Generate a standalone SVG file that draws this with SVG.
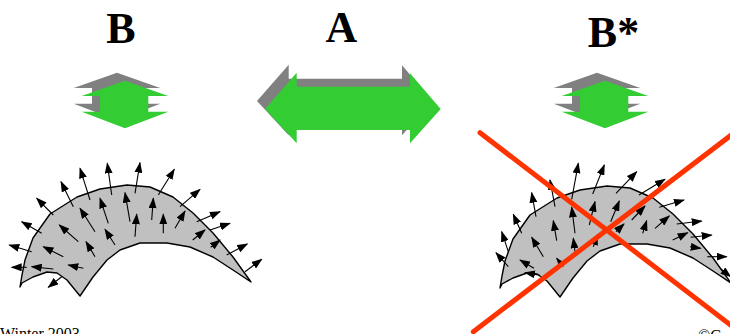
<svg xmlns="http://www.w3.org/2000/svg" xmlns:xlink="http://www.w3.org/1999/xlink" width="730" height="334" viewBox="0 0 730 334">
  <style>
    .title { font-family: "Liberation Serif", "Times New Roman", serif; font-weight: bold; font-size: 44px; fill: #000; }
    .foot { font-family: "Liberation Serif", "Times New Roman", serif; font-size: 16px; fill: #000; }
    .shadow { fill: #808080; }
    .face { fill: #33CC33; }
    .surface { fill: #C0C0C0; stroke: #000; stroke-width: 1.4; stroke-linejoin: round; }
    .normal { stroke: #000; stroke-width: 1.1; fill: none; marker-end: url(#head); }
    .cross { stroke: #FF3300; stroke-width: 5; stroke-linecap: round; fill: none; }
  </style>
  <defs>
    <marker id="head" markerUnits="userSpaceOnUse" markerWidth="11" markerHeight="8" refX="10" refY="4" orient="auto">
      <path d="M0,0 L11,4 L0,8 z" fill="#000"/>
    </marker>
    <!-- small vertical double arrow, centred on x=125 -->
    <polygon id="vArrow" points="125,80.7 168.3,96 148.3,96 148.3,111.7 168.3,111.7 125,128.3 81.7,111.7 100,111.7 100,96 81.7,96"/>
    <!-- large horizontal double arrow -->
    <polygon id="hArrow" points="265,109 296.7,72.7 296.7,86.7 410,86.7 410,73.3 440.7,109 410,143.3 410,130 296.7,130 296.7,143.3"/>
    <!-- curved surface patch -->
    <path id="patch" d="M20,287 L22,275 L25,260 L33,238 L50,214 L77,197 L100,189 L127,185 L150,187 L173,197 L193,213 L213,233 L233,257 L251,282 L233,270 L213,257 L190,247 L167,243 L140,243 L120,250 L107,260 L93,277 L80,296 L67,280 L57,273 L47,272 L33,277 L22,283 Z"/>
  </defs>

  <!-- titles -->
  <g id="label-B"><text class="title" x="121" y="43" text-anchor="middle">B</text></g>
  <g id="label-A"><text class="title" x="341.5" y="42" text-anchor="middle">A</text></g>
  <g id="label-Bstar"><text class="title" x="613.5" y="47" text-anchor="middle">B*</text></g>

  <!-- double arrows -->
  <g id="arrow-B">
    <use xlink:href="#vArrow" class="shadow" transform="translate(-8,-8)"/>
    <use xlink:href="#vArrow" class="face"/>
  </g>
  <g id="arrow-A">
    <use xlink:href="#hArrow" class="shadow" transform="translate(-8,-8)"/>
    <use xlink:href="#hArrow" class="face"/>
  </g>
  <g id="arrow-Bstar">
    <use xlink:href="#vArrow" class="shadow" transform="translate(472,-8)"/>
    <use xlink:href="#vArrow" class="face" transform="translate(480,0)"/>
  </g>

  <!-- left surface with its normal field -->
  <g id="surface-left">
    <use xlink:href="#patch" class="surface"/>
    <g id="normals-left">
      <line class="normal" x1="90" y1="200" x2="80" y2="168.3"/>
      <line class="normal" x1="111.7" y1="195" x2="107.3" y2="163.3"/>
      <line class="normal" x1="135" y1="193.3" x2="140" y2="162.7"/>
      <line class="normal" x1="158.3" y1="195" x2="174.3" y2="169.3"/>
      <line class="normal" x1="180" y1="206.7" x2="200" y2="189.3"/>
      <line class="normal" x1="196.7" y1="221.7" x2="220" y2="211.7"/>
      <line class="normal" x1="210" y1="230" x2="230" y2="223.3"/>
      <line class="normal" x1="226.7" y1="255" x2="247.3" y2="244"/>
      <line class="normal" x1="245" y1="271.7" x2="261.7" y2="259.3"/>
      <line class="normal" x1="73.3" y1="206.7" x2="61" y2="181.7"/>
      <line class="normal" x1="53.3" y1="215" x2="36.7" y2="198.3"/>
      <line class="normal" x1="41.7" y1="233.3" x2="21.7" y2="221.7"/>
      <line class="normal" x1="31.7" y1="251.7" x2="9.3" y2="245"/>
      <line class="normal" x1="26.7" y1="267.3" x2="11.7" y2="267.3"/>
      <line class="normal" x1="53.3" y1="269" x2="31.7" y2="266.7"/>
      <line class="normal" x1="61.7" y1="276.7" x2="48.3" y2="287.3"/>
      <line class="normal" x1="83.3" y1="268.3" x2="68.3" y2="265"/>
      <line class="normal" x1="63.3" y1="256.7" x2="43.3" y2="246.7"/>
      <line class="normal" x1="78.3" y1="241.7" x2="59.3" y2="225"/>
      <line class="normal" x1="95" y1="256.7" x2="86" y2="241.7"/>
      <line class="normal" x1="95" y1="231.7" x2="80" y2="208.3"/>
      <line class="normal" x1="108.3" y1="223.3" x2="100" y2="198.3"/>
      <line class="normal" x1="130" y1="221.7" x2="125" y2="192.7"/>
      <line class="normal" x1="115" y1="245" x2="105" y2="229.3"/>
      <line class="normal" x1="135" y1="236.7" x2="136.7" y2="214.3"/>
      <line class="normal" x1="151.7" y1="220" x2="153.3" y2="198.3"/>
      <line class="normal" x1="163.3" y1="233.3" x2="163.3" y2="214.3"/>
      <line class="normal" x1="175" y1="228.3" x2="185" y2="211"/>
      <line class="normal" x1="192.7" y1="240" x2="205" y2="230"/>
      <line class="normal" x1="210.7" y1="247.3" x2="220" y2="240"/>
    </g>
  </g>

  <!-- right surface with its normal field, struck out -->
  <g id="surface-right">
    <use xlink:href="#patch" class="surface" transform="translate(480,1)"/>
    <g id="normals-right">
      <line class="normal" x1="508.3" y1="266.7" x2="496" y2="252.7"/>
      <line class="normal" x1="508.3" y1="251.7" x2="501.7" y2="231.7"/>
      <line class="normal" x1="521.7" y1="233.3" x2="513.3" y2="214.3"/>
      <line class="normal" x1="536" y1="216.7" x2="531.7" y2="192.7"/>
      <line class="normal" x1="555" y1="206.7" x2="550" y2="180"/>
      <line class="normal" x1="571.7" y1="199.3" x2="578.3" y2="163.3"/>
      <line class="normal" x1="592.7" y1="194" x2="604.3" y2="165"/>
      <line class="normal" x1="616" y1="193.3" x2="636.7" y2="171.7"/>
      <line class="normal" x1="639" y1="195" x2="665" y2="179.3"/>
      <line class="normal" x1="659.3" y1="207.3" x2="684" y2="200"/>
      <line class="normal" x1="676.7" y1="224" x2="701.7" y2="221"/>
      <line class="normal" x1="690.7" y1="237.3" x2="711.7" y2="235"/>
      <line class="normal" x1="707.3" y1="256.7" x2="726.7" y2="256.7"/>
      <line class="normal" x1="720" y1="268.3" x2="730.7" y2="276.7"/>
      <line class="normal" x1="534" y1="268.3" x2="520" y2="260"/>
      <line class="normal" x1="540" y1="275.3" x2="525" y2="272.7"/>
      <line class="normal" x1="543.3" y1="256.7" x2="531.7" y2="237.3"/>
      <line class="normal" x1="556.7" y1="240.7" x2="553.3" y2="220.7"/>
      <line class="normal" x1="575" y1="233.3" x2="571.7" y2="207.3"/>
      <line class="normal" x1="563.3" y1="266.7" x2="556.7" y2="258.3"/>
      <line class="normal" x1="575" y1="251.7" x2="573.3" y2="238.3"/>
      <line class="normal" x1="589.3" y1="225" x2="595" y2="201.7"/>
      <line class="normal" x1="610.7" y1="221.7" x2="619.3" y2="201"/>
      <line class="normal" x1="616" y1="231.7" x2="624" y2="224"/>
      <line class="normal" x1="631.7" y1="220" x2="645" y2="206"/>
      <line class="normal" x1="642.7" y1="233.3" x2="646.7" y2="220.7"/>
      <line class="normal" x1="655" y1="228.3" x2="669.3" y2="216"/>
      <line class="normal" x1="672.7" y1="240" x2="687.7" y2="232.7"/>
      <line class="normal" x1="690" y1="246.7" x2="700.7" y2="248.3"/>
      <line class="normal" x1="593.3" y1="246.7" x2="597.3" y2="235"/>
    </g>
    <g id="strike">
      <line class="cross" x1="480" y1="132.7" x2="735" y2="328.5"/>
      <line class="cross" x1="473.3" y1="331.7" x2="735" y2="132.2"/>
    </g>
  </g>

  <!-- footer -->
  <g id="footer">
    <text class="foot" x="0" y="339">Winter 2003</text>
    <text class="foot" x="698" y="341">©G</text>
  </g>
</svg>
